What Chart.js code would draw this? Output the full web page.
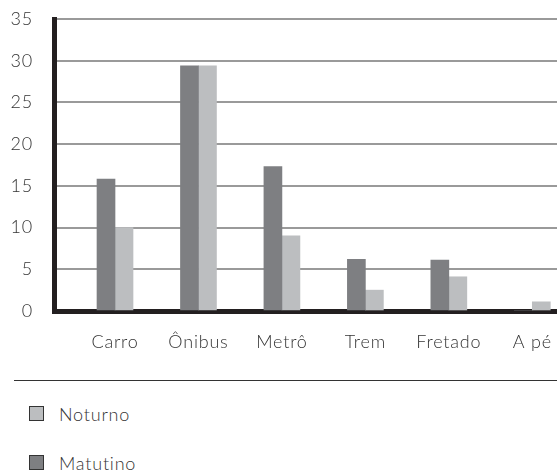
<!DOCTYPE html>
<html>
<head>
<meta charset="utf-8">
<script src="https://cdn.jsdelivr.net/npm/chart.js@4"></script>
<style>
  body { margin: 0; background: #fff; }
  #wrap { position: relative; width: 557px; height: 474px; font-family: Lato, "Open Sans", sans-serif; color: #333; }
  #chartBox { position: absolute; left: 0; top: 0; width: 557px; height: 360px; }
  #rule { position: absolute; left: 14px; right: 0; top: 380px; border-top: 1px solid #333; }
  .item { position: absolute; left: 29px; height: 15px; display: flex; align-items: center; font-size: 18px; font-weight: 300; letter-spacing: 0.8px; }
  .item span.box { width: 13px; height: 13px; border: 1px solid #333; margin-right: 15px; flex: none; }
</style>
</head>
<body>
<div id="wrap">
  <div id="chartBox"><canvas id="barChart"></canvas></div>
  <div id="rule"></div>
  <div id="legend"></div>
</div>
<script>
const categories = ["Carro", "Ônibus", "Metrô", "Trem", "Fretado", "A pé"];
const matutino = [15.8, 29.4, 17.3, 6.2, 6.1, 0];
const noturno = [10.0, 29.4, 9.0, 2.5, 4.1, 1.1];
const yTicks = [0, 5, 10, 15, 20, 25, 30, 35];

const seriesColors = {
    "Matutino": "#7e7f82",
    "Noturno": "#bcbec0"
};

function toPoints(values) {
    return values.map((v, i) => ({ x: i, y: v }));
}

// no extra room for the end labels, the plot is placed by hand
function noPadding(scale) {
    scale.paddingLeft = 0;
    scale.paddingRight = 0;
    scale.paddingTop = 0;
    scale.paddingBottom = 0;
}

const tickFont = { family: 'Lato', size: 18, weight: 300 };

const chart = new Chart(document.getElementById('barChart'), {
    type: 'bar',
    data: {
        datasets: [{
            label: "Matutino",
            data: toPoints(matutino),
            backgroundColor: seriesColors["Matutino"],
            barThickness: 18
        }, {
            label: "Noturno",
            data: toPoints(noturno),
            backgroundColor: seriesColors["Noturno"],
            barThickness: 18
        }]
    },
    options: {
        responsive: true,
        maintainAspectRatio: false,
        animation: false,
        layout: { padding: { top: 19, right: 0, left: 0, bottom: 0 } },
        plugins: {
            legend: { display: false },
            tooltip: { enabled: false }
        },
        scales: {
            x: {
                // linear index axis so the plot can be cut off on the right like the original
                type: 'linear',
                offset: false,
                min: -0.731,
                max: 5.296,
                grid: { display: false, offset: false },
                border: { display: true, color: '#231f20', width: 5 },
                afterBuildTicks: scale => {
                    scale.ticks = categories.map((c, i) => ({ value: i }));
                },
                afterFit: scale => { scale.height = 49; noPadding(scale); },
                ticks: {
                    autoSkip: false,
                    maxRotation: 0,
                    padding: 12,
                    color: '#333',
                    font: tickFont,
                    callback: value => categories[value] ?? ''
                }
            },
            y: {
                min: 0,
                max: 35,
                afterBuildTicks: scale => {
                    scale.ticks = yTicks.map(v => ({ value: v }));
                },
                afterFit: scale => { scale.width = 54; noPadding(scale); },
                grid: { color: '#9a9a9a', lineWidth: 2, drawTicks: false },
                border: { display: true, color: '#231f20', width: 5 },
                ticks: {
                    padding: 21,
                    color: '#333',
                    font: tickFont
                }
            }
        }
    },
    plugins: [{
        id: 'wideText',
        beforeDraw: c => { c.ctx.letterSpacing = '0.8px'; }
    }]
});

// legend below the rule, Noturno first
const legend = document.getElementById('legend');
chart.data.datasets.slice().reverse().forEach((ds, i) => {
    const item = document.createElement('div');
    item.className = 'item';
    item.style.top = (406 + i * 49) + 'px';
    const box = document.createElement('span');
    box.className = 'box';
    box.style.background = ds.backgroundColor;
    item.appendChild(box);
    item.appendChild(document.createTextNode(ds.label));
    legend.appendChild(item);
});
</script>
</body>
</html>
